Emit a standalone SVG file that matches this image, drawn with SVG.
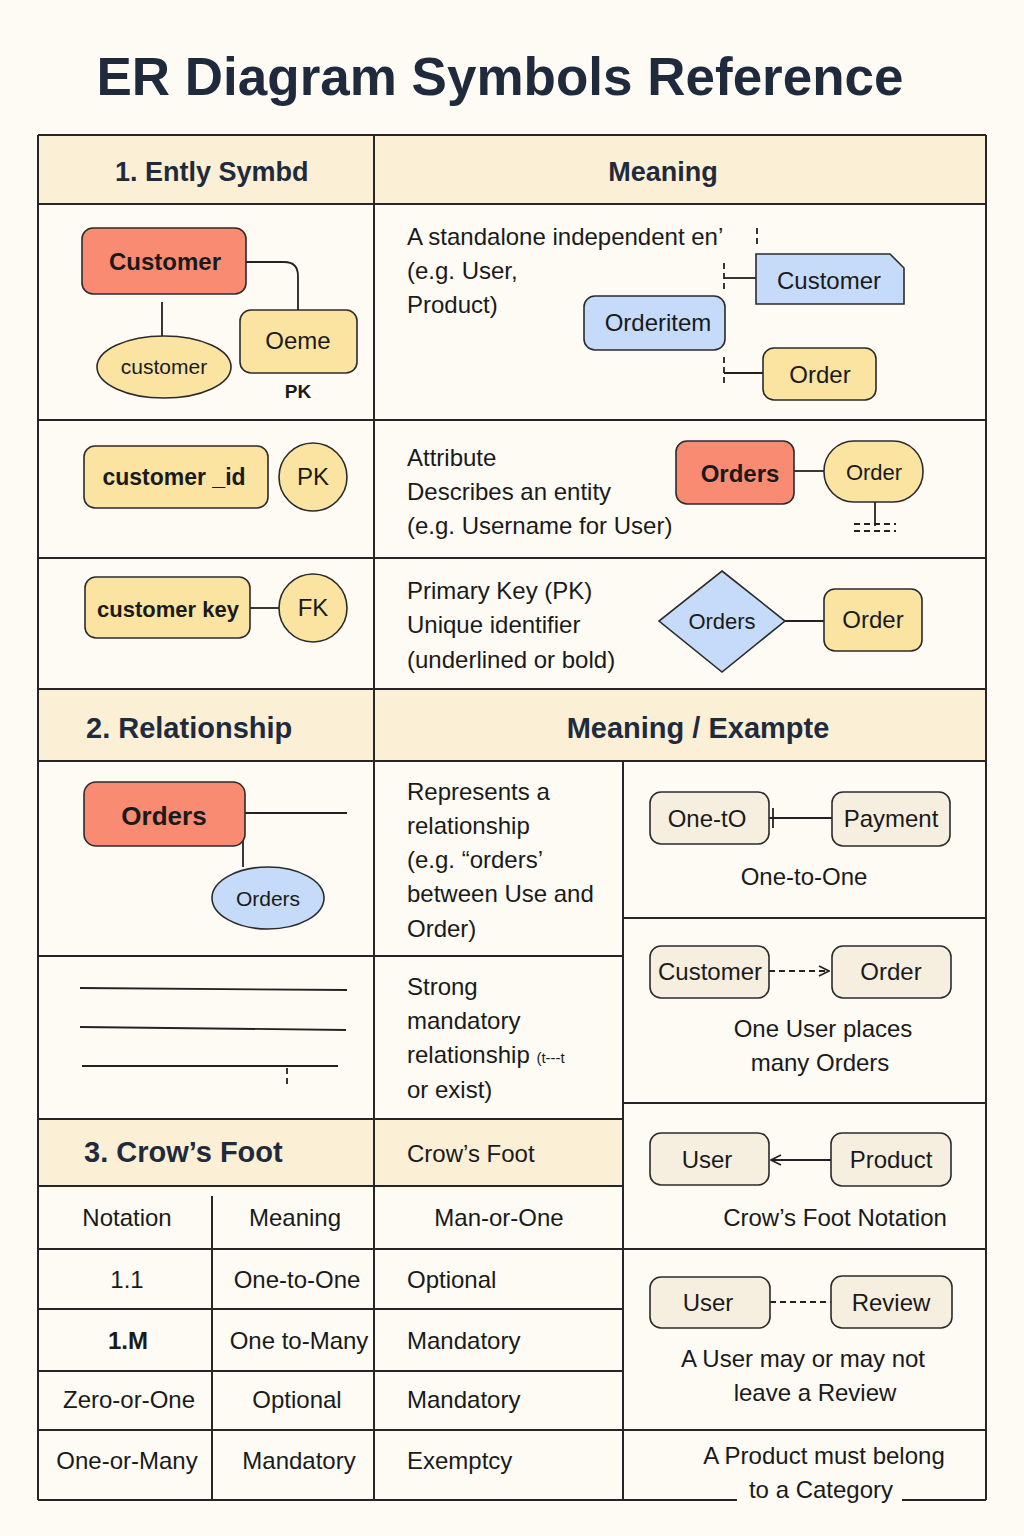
<svg xmlns="http://www.w3.org/2000/svg" width="1024" height="1536" viewBox="0 0 1024 1536">
  <style>
    .bg { fill: #fdfbf4; }
    .hdr { fill: #fbf0d6; }
    .grid { stroke: #262626; stroke-width: 2; fill: none; }
    .node { stroke: #2b2b2b; stroke-width: 1.6; }
    .red { fill: #f98b73; }
    .yel { fill: #fbe4a2; }
    .blu { fill: #c5dbf9; }
    .bei { fill: #f6efe0; }
    .wire { stroke: #222; stroke-width: 1.8; fill: none; }
    .dash { stroke: #222; stroke-width: 1.8; fill: none; stroke-dasharray: 6 4; }
    text { font-family: "Liberation Sans", "Noto Sans", Arial, sans-serif; fill: #1a1a1a; }
    .t { font-size: 24px; }
    .tc { font-size: 24px; text-anchor: middle; }
    .nb { font-size: 24px; font-weight: bold; text-anchor: middle; }
    .hd { font-size: 27px; font-weight: bold; fill: #1f2b3d; }
    .hd2 { font-size: 29px; font-weight: bold; fill: #1f2b3d; }
    .title { font-size: 53px; font-weight: bold; fill: #1f2b3d; text-anchor: middle; }
  </style>
  <defs>
    <marker id="openArrow" viewBox="0 0 12 12" refX="11" refY="6" markerWidth="12" markerHeight="12" markerUnits="userSpaceOnUse" orient="auto">
      <path d="M1,1 L11,6 L1,11" fill="none" stroke="#222" stroke-width="1.6"/>
    </marker>
  </defs>

  <rect class="bg" x="0" y="0" width="1024" height="1536"/>

  <text class="title" x="500" y="95">ER Diagram Symbols Reference</text>

  <!-- header bands -->
  <rect class="hdr" x="38" y="135" width="948" height="69"/>
  <rect class="hdr" x="38" y="689" width="948" height="72"/>
  <rect class="hdr" x="38" y="1119" width="585" height="67"/>

  <!-- table grid -->
  <g id="grid" class="grid">
    <line x1="38" y1="135" x2="986" y2="135"/>
    <line x1="38" y1="204" x2="986" y2="204"/>
    <line x1="38" y1="420" x2="986" y2="420"/>
    <line x1="38" y1="558" x2="986" y2="558"/>
    <line x1="38" y1="689" x2="986" y2="689"/>
    <line x1="38" y1="761" x2="986" y2="761"/>
    <line x1="38" y1="956" x2="623" y2="956"/>
    <line x1="38" y1="1119" x2="623" y2="1119"/>
    <line x1="38" y1="1186" x2="623" y2="1186"/>
    <line x1="38" y1="1249" x2="986" y2="1249"/>
    <line x1="38" y1="1309" x2="623" y2="1309"/>
    <line x1="38" y1="1371" x2="623" y2="1371"/>
    <line x1="38" y1="1430" x2="986" y2="1430"/>
    <line x1="38" y1="1500" x2="737" y2="1500"/>
    <line x1="902" y1="1500" x2="986" y2="1500"/>
    <line x1="623" y1="918" x2="986" y2="918"/>
    <line x1="623" y1="1103" x2="986" y2="1103"/>
    <line x1="38" y1="135" x2="38" y2="1500"/>
    <line x1="986" y1="135" x2="986" y2="1500"/>
    <line x1="374" y1="135" x2="374" y2="1500"/>
    <line x1="623" y1="761" x2="623" y2="1500"/>
    <line x1="212" y1="1196" x2="212" y2="1500"/>
  </g>

  <!-- header labels -->
  <text class="hd" x="115" y="181">1. Ently  Symbd</text>
  <text class="hd" x="663" y="181" text-anchor="middle">Meaning</text>
  <text class="hd2" x="86" y="738">2. Relationship</text>
  <text class="hd2" x="698" y="738" text-anchor="middle">Meaning / Exampte</text>
  <text class="hd2" x="84" y="1162">3. Crow’s Foot</text>
  <text class="t" x="407" y="1162">Crow’s Foot</text>

  <!-- connectors -->
  <g id="connectors">
    <path class="wire" d="M246,262 H284 Q298,262 298,276 V310"/>
    <line class="wire" x1="162" y1="302" x2="162" y2="336"/>
    <line class="dash" x1="757" y1="228" x2="757" y2="244"/>
    <line class="dash" x1="724" y1="263" x2="724" y2="292"/>
    <line class="wire" x1="724" y1="278" x2="756" y2="278"/>
    <line class="dash" x1="724" y1="357" x2="724" y2="387"/>
    <line class="wire" x1="724" y1="373" x2="763" y2="373"/>
    <line class="wire" x1="794" y1="471" x2="824" y2="471"/>
    <line class="wire" x1="875" y1="502" x2="875" y2="526"/>
    <line class="dash" x1="854" y1="524" x2="896" y2="524" stroke-dasharray="7 3"/>
    <line class="dash" x1="854" y1="531" x2="896" y2="531" stroke-dasharray="7 3"/>
    <line class="wire" x1="250" y1="608" x2="280" y2="608"/>
    <line class="wire" x1="785" y1="621" x2="824" y2="621"/>
    <line class="wire" x1="245" y1="813" x2="347" y2="813"/>
    <line class="wire" x1="243" y1="813" x2="243" y2="867"/>
    <line class="wire" x1="80" y1="988" x2="347" y2="990"/>
    <line class="wire" x1="80" y1="1027" x2="346" y2="1030"/>
    <line class="wire" x1="82" y1="1066" x2="338" y2="1066"/>
    <line class="dash" x1="287" y1="1068" x2="287" y2="1088"/>
    <line class="wire" x1="769" y1="818" x2="832" y2="818"/>
    <line class="wire" x1="773" y1="808" x2="773" y2="828"/>
    <line class="dash" x1="769" y1="971" x2="829" y2="971" marker-end="url(#openArrow)"/>
    <line class="wire" x1="831" y1="1160" x2="771" y2="1160" marker-end="url(#openArrow)"/>
    <line class="dash" x1="770" y1="1302" x2="831" y2="1302"/>
  </g>

  <!-- section 1: entity symbols -->
  <g id="entity-customer">
    <rect class="node red" x="82" y="228" width="164" height="66" rx="11"/>
    <text class="nb" x="165" y="270">Customer</text>
  </g>
  <g id="attr-oeme">
    <rect class="node yel" x="240" y="310" width="117" height="63" rx="11"/>
    <text class="tc" x="298" y="349">Oeme</text>
    <text x="298" y="398" font-size="19" font-weight="bold" text-anchor="middle">PK</text>
  </g>
  <g id="attr-customer">
    <ellipse class="node yel" cx="164" cy="367" rx="67" ry="31"/>
    <text x="164" y="374" font-size="21" text-anchor="middle">customer</text>
  </g>

  <g id="entity-meaning">
    <text class="t" x="407" y="245">A standalone independent en’</text>
    <text class="t" x="407" y="279">(e.g. User,</text>
    <text class="t" x="407" y="313">Product)</text>
  </g>
  <g id="node-orderitem">
    <rect class="node blu" x="584" y="296" width="141" height="54" rx="11"/>
    <text class="tc" x="658" y="331">Orderitem</text>
  </g>
  <g id="node-customer-doc">
    <path class="node blu" d="M756,254 H890 L904,268 V304 H756 Z"/>
    <text class="tc" x="829" y="289">Customer</text>
  </g>
  <g id="node-order-1">
    <rect class="node yel" x="763" y="348" width="113" height="52" rx="11"/>
    <text class="tc" x="820" y="383">Order</text>
  </g>

  <g id="attr-customer-id">
    <rect class="node yel" x="84" y="446" width="184" height="62" rx="11"/>
    <text x="174" y="485" font-size="23" font-weight="bold" text-anchor="middle">customer _id</text>
  </g>
  <g id="key-pk">
    <circle class="node yel" cx="313" cy="477" r="34"/>
    <text class="tc" x="313" y="485">PK</text>
  </g>
  <g id="attribute-meaning">
    <text class="t" x="407" y="466">Attribute</text>
    <text class="t" x="407" y="500">Describes an entity</text>
    <text class="t" x="407" y="534">(e.g. Username for User)</text>
  </g>
  <g id="node-orders-red">
    <rect class="node red" x="676" y="441" width="118" height="63" rx="11"/>
    <text class="nb" x="740" y="482">Orders</text>
  </g>
  <g id="node-order-stadium">
    <rect class="node yel" x="824" y="441" width="99" height="61" rx="30"/>
    <text x="874" y="480" font-size="22" text-anchor="middle">Order</text>
  </g>

  <g id="attr-customer-key">
    <rect class="node yel" x="85" y="577" width="165" height="61" rx="11"/>
    <text x="168" y="617" font-size="22" font-weight="bold" text-anchor="middle">customer key</text>
  </g>
  <g id="key-fk">
    <circle class="node yel" cx="313" cy="608" r="34"/>
    <text class="tc" x="313" y="616">FK</text>
  </g>
  <g id="pk-meaning">
    <text class="t" x="407" y="599">Primary Key (PK)</text>
    <text class="t" x="407" y="633">Unique identifier</text>
    <text class="t" x="407" y="668">(underlined or bold)</text>
  </g>
  <g id="rel-orders-diamond">
    <polygon class="node blu" points="722,571 785,621 722,672 659,621"/>
    <text x="722" y="629" font-size="22" text-anchor="middle">Orders</text>
  </g>
  <g id="node-order-2">
    <rect class="node yel" x="824" y="589" width="98" height="62" rx="11"/>
    <text class="tc" x="873" y="628">Order</text>
  </g>

  <!-- section 2: relationship -->
  <g id="rel-orders-entity">
    <rect class="node red" x="84" y="782" width="161" height="64" rx="12"/>
    <text x="164" y="825" font-size="26" font-weight="bold" text-anchor="middle">Orders</text>
  </g>
  <g id="rel-orders-ellipse">
    <ellipse class="node blu" cx="268" cy="898" rx="56" ry="31"/>
    <text x="268" y="906" font-size="21" text-anchor="middle">Orders</text>
  </g>
  <g id="relationship-meaning">
    <text class="t" x="407" y="800">Represents a</text>
    <text class="t" x="407" y="834">relationship</text>
    <text class="t" x="407" y="868">(e.g. “orders’</text>
    <text class="t" x="407" y="902">between Use and</text>
    <text class="t" x="407" y="937">Order)</text>
  </g>
  <g id="strong-meaning">
    <text class="t" x="407" y="995">Strong</text>
    <text class="t" x="407" y="1029">mandatory</text>
    <text class="t" x="407" y="1063">relationship <tspan font-size="15">(t‑‑‑t</tspan></text>
    <text class="t" x="407" y="1098">or exist)</text>
  </g>

  <!-- examples column -->
  <g id="ex-one-to">
    <rect class="node bei" x="650" y="792" width="119" height="52" rx="11"/>
    <text class="tc" x="707" y="827">One-tO</text>
  </g>
  <g id="ex-payment">
    <rect class="node bei" x="832" y="792" width="118" height="54" rx="11"/>
    <text class="tc" x="891" y="827">Payment</text>
  </g>
  <text class="tc" x="804" y="885">One-to-One</text>

  <g id="ex-customer">
    <rect class="node bei" x="650" y="946" width="119" height="52" rx="11"/>
    <text class="tc" x="710" y="980">Customer</text>
  </g>
  <g id="ex-order">
    <rect class="node bei" x="832" y="946" width="119" height="52" rx="11"/>
    <text class="tc" x="891" y="980">Order</text>
  </g>
  <text class="tc" x="823" y="1037">One User places</text>
  <text class="tc" x="820" y="1071">many Orders</text>

  <g id="ex-user-1">
    <rect class="node bei" x="650" y="1133" width="119" height="52" rx="11"/>
    <text class="tc" x="707" y="1168">User</text>
  </g>
  <g id="ex-product">
    <rect class="node bei" x="831" y="1133" width="120" height="53" rx="11"/>
    <text class="tc" x="891" y="1168">Product</text>
  </g>
  <text class="tc" x="835" y="1226">Crow’s Foot Notation</text>

  <g id="ex-user-2">
    <rect class="node bei" x="650" y="1277" width="120" height="51" rx="11"/>
    <text class="tc" x="708" y="1311">User</text>
  </g>
  <g id="ex-review">
    <rect class="node bei" x="831" y="1276" width="121" height="52" rx="11"/>
    <text class="tc" x="891" y="1311">Review</text>
  </g>
  <text class="tc" x="803" y="1367">A User may or may not</text>
  <text class="tc" x="815" y="1401">leave a Review</text>

  <text class="tc" x="824" y="1464">A Product must belong</text>
  <text class="tc" x="821" y="1498">to a Category</text>

  <!-- section 3: crow's foot table -->
  <g id="crowsfoot-table">
    <text class="tc" x="127" y="1226">Notation</text>
    <text class="tc" x="295" y="1226">Meaning</text>
    <text class="tc" x="499" y="1226">Man-or-One</text>

    <text class="tc" x="127" y="1288">1.1</text>
    <text class="tc" x="297" y="1288">One-to-One</text>
    <text class="t" x="407" y="1288">Optional</text>

    <text class="tc" x="128" y="1349" font-weight="bold">1.M</text>
    <text class="tc" x="299" y="1349">One to-Many</text>
    <text class="t" x="407" y="1349">Mandatory</text>

    <text class="tc" x="129" y="1408">Zero-or-One</text>
    <text class="tc" x="297" y="1408">Optional</text>
    <text class="t" x="407" y="1408">Mandatory</text>

    <text class="tc" x="127" y="1469">One-or-Many</text>
    <text class="tc" x="299" y="1469">Mandatory</text>
    <text class="t" x="407" y="1469">Exemptcy</text>
  </g>
</svg>
